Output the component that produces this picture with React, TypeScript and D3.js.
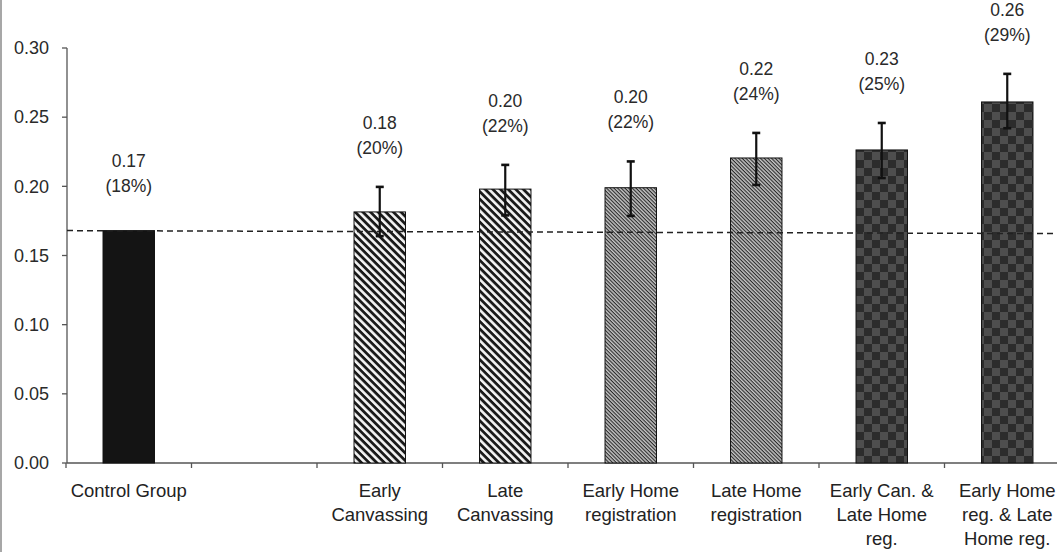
import React from 'react';
import * as d3 from 'd3';

const categories: string[][] = [
  ['Control Group'],
  [],
  ['Early', 'Canvassing'],
  ['Late', 'Canvassing'],
  ['Early Home', 'registration'],
  ['Late Home', 'registration'],
  ['Early Can. &', 'Late Home', 'reg.'],
  ['Early Home', 'reg. & Late', 'Home reg.'],
];
const values: (number | null)[] = [0.168, null, 0.1815, 0.198, 0.199, 0.2205, 0.2263, 0.261];
const errLow: (number | null)[] = [null, null, 0.164, 0.179, 0.1786, 0.201, 0.206, 0.242];
const errHigh: (number | null)[] = [null, null, 0.1996, 0.2155, 0.218, 0.2386, 0.2458, 0.2813];
const valueLabels = ['0.17', '', '0.18', '0.20', '0.20', '0.22', '0.23', '0.26'];
const shareLabels = ['(18%)', '', '(20%)', '(22%)', '(22%)', '(24%)', '(25%)', '(29%)'];
const fillKinds = ['solid', '', 'wide', 'wide', 'fine', 'fine', 'check', 'check'];
const yTicks = [0, 0.05, 0.1, 0.15, 0.2, 0.25, 0.3];
const controlBaseline = 0.168;

const W = 1057;
const H = 552;
const FONT = '"Liberation Sans", Arial, sans-serif';

export default function App() {
  const keys = categories.map((_, i) => String(i));
  const x = d3.scaleBand<string>().domain(keys).range([66, 1070]).paddingInner(0.59).paddingOuter(0.295);
  const y = d3.scaleLinear().domain([0, 0.3]).range([463, 48]);
  const step = x.step();
  const x0 = 66;
  const fillFor = (k: string) =>
    k === 'solid' ? '#141414' : k === 'wide' ? 'url(#wide)' : k === 'fine' ? 'url(#fine)' : 'url(#check)';

  return (
    <svg width={W} height={H} style={{ position: 'absolute', left: 0, top: 0, background: '#fff' }}>
      <defs>
        <pattern id="wide" patternUnits="userSpaceOnUse" width={10} height={5.4} patternTransform="rotate(45)">
          <rect width={10} height={5.4} fill="#f4f4f4" />
          <rect width={10} height={2.8} fill="#1a1a1a" />
        </pattern>
        <pattern id="fine" patternUnits="userSpaceOnUse" width={10} height={2.6} patternTransform="rotate(45)">
          <rect width={10} height={2.6} fill="#c4c4c4" />
          <rect width={10} height={1.1} fill="#2a2a2a" />
        </pattern>
        <pattern id="check" patternUnits="userSpaceOnUse" width={16} height={16}>
          <rect width={16} height={16} fill="#2c2c2c" />
          <rect x={0} y={0} width={8} height={8} fill="#4e4e4e" />
          <rect x={8} y={8} width={8} height={8} fill="#4e4e4e" />
        </pattern>
      </defs>

      {/* left frame edge */}
      <line x1={1} x2={1} y1={0} y2={H} stroke="#8a8a8a" strokeWidth={1.5} />

      {/* y axis */}
      <line x1={67} x2={67} y1={y(0.3)} y2={y(0)} stroke="#555" strokeWidth={1.3} />
      {yTicks.map((t) => (
        <g key={t}>
          <line x1={62} x2={67} y1={y(t)} y2={y(t)} stroke="#555" strokeWidth={1.3} />
          <text
            x={49}
            y={y(t)}
            dy="0.35em"
            textAnchor="end"
            fontFamily={FONT}
            fontSize={18}
            fill="#2a2a2a"
          >
            {t.toFixed(2)}
          </text>
        </g>
      ))}

      {/* x axis */}
      <line x1={67} x2={W} y1={y(0)} y2={y(0)} stroke="#555" strokeWidth={1.3} />
      {d3.range(0, categories.length + 1).map((i) => (
        <line key={i} x1={x0 + i * step} x2={x0 + i * step} y1={y(0)} y2={y(0) + 5} stroke="#555" strokeWidth={1.3} />
      ))}

      {/* bars */}
      {values.map((v, i) =>
        v == null ? null : (
          <rect
            key={i}
            x={x(keys[i])}
            y={y(v)}
            width={x.bandwidth()}
            height={y(0) - y(v)}
            fill={fillFor(fillKinds[i])}
            stroke="#111"
            strokeWidth={1}
          />
        )
      )}

      {/* baseline dashed */}
      <line
        x1={67}
        x2={W}
        y1={y(controlBaseline)}
        y2={y(controlBaseline) + 3}
        stroke="#222"
        strokeWidth={1.5}
        strokeDasharray="6,4"
      />

      {/* error bars */}
      {values.map((v, i) => {
        const lo = errLow[i];
        const hi = errHigh[i];
        if (v == null || lo == null || hi == null) return null;
        const cx = (x(keys[i]) as number) + x.bandwidth() / 2;
        return (
          <g key={i} stroke="#111">
            <line x1={cx} x2={cx} y1={y(hi)} y2={y(lo)} strokeWidth={2.2} />
            <line x1={cx - 4} x2={cx + 4} y1={y(hi)} y2={y(hi)} strokeWidth={2.6} />
            <line x1={cx - 4} x2={cx + 4} y1={y(lo)} y2={y(lo)} strokeWidth={2.6} />
          </g>
        );
      })}

      {/* value labels */}
      {values.map((v, i) => {
        if (v == null) return null;
        const hi = errHigh[i];
        const cx = (x(keys[i]) as number) + x.bandwidth() / 2;
        const base = hi != null ? y(hi) - 33 : y(v) - 39;
        return (
          <g key={i} fontFamily={FONT} fontSize={17.5} fill="#2a2a2a" textAnchor="middle">
            <text x={cx} y={base - 25}>{valueLabels[i]}</text>
            <text x={cx} y={base}>{shareLabels[i]}</text>
          </g>
        );
      })}

      {/* category labels */}
      {categories.map((lines, i) => {
        const cx = (x(keys[i]) as number) + x.bandwidth() / 2;
        return (
          <text key={i} x={cx} y={497} textAnchor="middle" fontFamily={FONT} fontSize={18.5} fill="#222">
            {lines.map((l, j) => (
              <tspan key={j} x={cx} dy={j === 0 ? 0 : 24}>
                {l}
              </tspan>
            ))}
          </text>
        );
      })}
    </svg>
  );
}
